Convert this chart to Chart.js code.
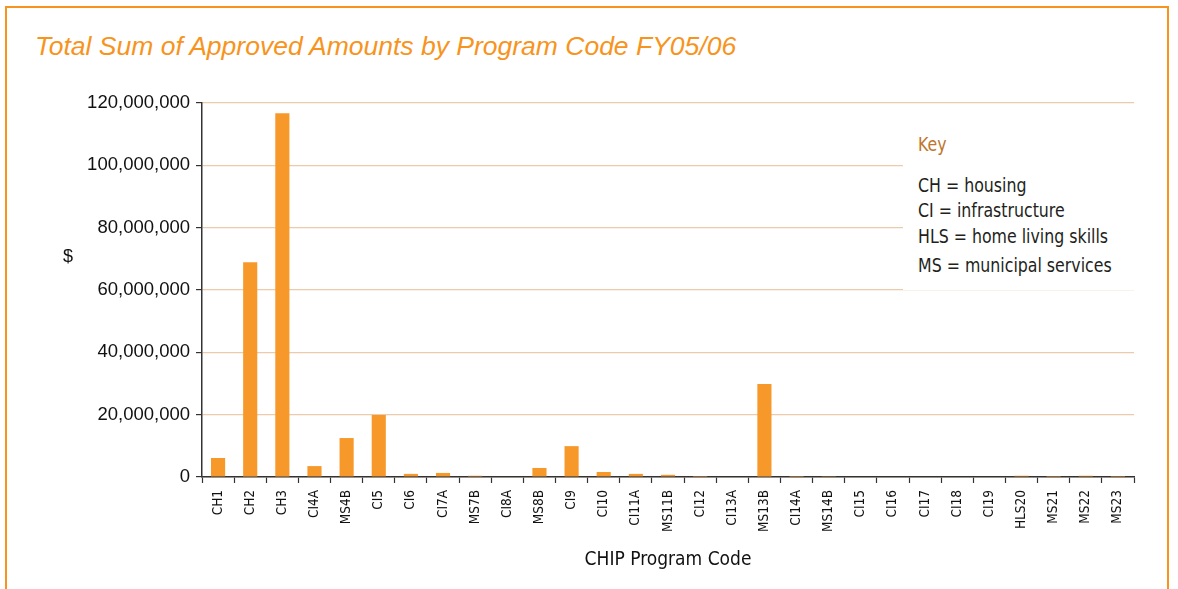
<!DOCTYPE html>
<html>
<head>
<meta charset="utf-8">
<script src="https://cdn.jsdelivr.net/npm/chart.js@4/dist/chart.umd.min.js"></script>
<style>
  html, body { margin: 0; padding: 0; background: #fff; }
  #wrap { position: relative; width: 1178px; height: 589px; overflow: hidden; background: #fff; }
  #frame { position: absolute; left: 5px; top: 6px; width: 1164px; height: 620px; border: 2px solid #F7941D; box-sizing: border-box; }
  #title { position: absolute; left: 35px; top: 33px; font: italic 26.5px "Liberation Sans", Arial, sans-serif; line-height: 26px; color: #F7941D; white-space: nowrap; }
  #chart { position: absolute; left: 0; top: 0; }
  #key { position: absolute; left: 903px; top: 112px; width: 231px; height: 178px; background: #fff; font-family: "DejaVu Sans Condensed", sans-serif; color: #231f20; }
  #key div { position: absolute; left: 15px; white-space: nowrap; font-size: 19.5px; line-height: 20px; transform: scaleX(0.9); transform-origin: 0 0; }
  #key .k { color: #C0762A; }
</style>
</head>
<body>
<div id="wrap">
  <div id="frame"></div>
  <div id="title">Total Sum of Approved Amounts by Program Code FY05/06</div>
  <canvas id="chart" width="1178" height="589"></canvas>
  <div id="key">
    <div class="k" style="top:23px">Key</div>
    <div style="top:64px">CH = housing</div>
    <div style="top:89px">CI = infrastructure</div>
    <div style="top:115px">HLS = home living skills</div>
    <div style="top:144px">MS = municipal services</div>
  </div>
</div>
<script>
const categories = ["CH1","CH2","CH3","CI4A","MS4B","CI5","CI6","CI7A","MS7B","CI8A","MS8B","CI9","CI10","CI11A","MS11B","CI12","CI13A","MS13B","CI14A","MS14B","CI15","CI16","CI17","CI18","CI19","HLS20","MS21","MS22","MS23"];
const approvedAmounts = [6100000, 68900000, 116700000, 3500000, 12500000, 19900000, 1000000, 1300000, 400000, 0, 2900000, 9900000, 1600000, 1000000, 700000, 50000, 0, 29800000, 50000, 100000, 0, 0, 0, 0, 0, 400000, 50000, 400000, 50000];
const yTicks = [0, 20000000, 40000000, 60000000, 80000000, 100000000, 120000000];
const xAxisTitle = "CHIP Program Code";
const yAxisTitle = "$";

const narrow = '"DejaVu Sans Condensed", sans-serif';
const regular = '"Liberation Sans", Arial, sans-serif';

const yTitlePlugin = {
  id: 'yTitle',
  afterDraw(chart) {
    const ctx = chart.ctx;
    const y = chart.scales.y.getPixelForValue(70500000);
    ctx.save();
    ctx.font = '18px ' + regular;
    ctx.fillStyle = '#111';
    ctx.textAlign = 'center';
    ctx.textBaseline = 'middle';
    ctx.fillText(yAxisTitle, 68, y);
    ctx.restore();
  }
};

new Chart(document.getElementById('chart'), {
  type: 'bar',
  data: {
    labels: categories,
    datasets: [{
      data: approvedAmounts,
      backgroundColor: '#F7992A',
      borderWidth: 0,
      categoryPercentage: 1.0,
      barPercentage: 0.44
    }]
  },
  options: {
    responsive: false,
    animation: false,
    layout: { padding: { top: 103, left: 10, right: 44, bottom: 14 } },
    plugins: { legend: { display: false }, tooltip: { enabled: false }, title: { display: false } },
    scales: {
      x: {
        offset: true,
        grid: { display: true, drawOnChartArea: false, drawTicks: true, tickLength: 6, tickColor: '#333', tickWidth: 1.2, offset: true },
        border: { display: true, color: '#333', width: 1.5 },
        ticks: { minRotation: 90, maxRotation: 90, autoSkip: false, color: '#111', padding: 7, font: { family: narrow, size: 13.5 } },
        title: { display: true, text: xAxisTitle, color: '#111', font: { family: narrow, size: 19 }, padding: { top: 4, bottom: 4 } },
        afterFit(s) { s.height = 98; }
      },
      y: {
        min: 0, max: 120000000,
        afterBuildTicks(s) { s.ticks = yTicks.map(v => ({ value: v })); },
        grid: { color: '#EBCBAA', lineWidth: 1.2, drawTicks: true, tickLength: 6, tickColor: '#333', tickWidth: 1.2 },
        border: { display: true, color: '#333', width: 1.5 },
        ticks: {
          color: '#111', padding: 6,
          font: { family: regular, size: 18.5 },
          callback: v => v.toLocaleString('en-US')
        },
        afterFit(s) { s.width = 192; }
      }
    }
  },
  plugins: [yTitlePlugin]
});
</script>
</body>
</html>
